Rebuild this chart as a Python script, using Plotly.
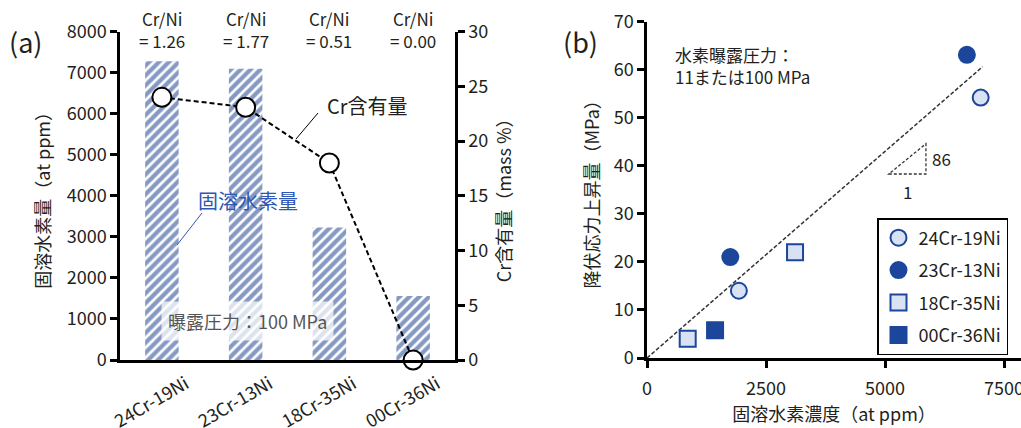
import plotly.graph_objects as go

# ---------------- data ----------------
alloys = ["24Cr-19Ni", "23Cr-13Ni", "18Cr-35Ni", "00Cr-36Ni"]
h_content = [7280, 7100, 3230, 1560]          # at ppm (100 MPa)
cr_content = [24.0, 23.1, 18.0, 0.0]          # mass %
cr_ni_ratio = ["1.26", "1.77", "0.51", "0.00"]

b_x = {"24Cr-19Ni": [1930, 7010], "23Cr-13Ni": [1750, 6720],
       "18Cr-35Ni": [855, 3110], "00Cr-36Ni": [1430]}
b_y = {"24Cr-19Ni": [14, 54.2], "23Cr-13Ni": [21, 63.1],
       "18Cr-35Ni": [4, 22], "00Cr-36Ni": [5.8]}
fit_slope = 86 / 10000          # MPa per at ppm (86 MPa / at%)
fit_x = [0, 7050]
tri_x = [5080, 5860]
tri_y = [38.3, 44.6]

left_y_ticks = [0, 1000, 2000, 3000, 4000, 5000, 6000, 7000, 8000]
right_y_ticks = [0, 5, 10, 15, 20, 25, 30]
b_x_ticks = [0, 2500, 5000, 7500]
b_y_ticks = [0, 10, 20, 30, 40, 50, 60, 70]

# ---------------- styles ----------------
FONT = "Noto Sans CJK JP, Noto Sans, sans-serif"
DARK = "#1b469b"
LIGHT = "#d9e2f3"
TXT = "#231f20"
W, H = 1021, 428
TF = 18


def px(x):
    return x / W


def py(y):
    return (H - y) / H


fig = go.Figure()

# (a) bars
fig.add_trace(go.Bar(
    x=alloys, y=h_content, width=0.4, xaxis="x", yaxis="y",
    marker=dict(color="white", line=dict(width=0),
                pattern=dict(shape="/", fgcolor="#0c3488", bgcolor="white",
                             size=7, solidity=0.62)),
    showlegend=False))
# (a) Cr content line
fig.add_trace(go.Scatter(
    x=alloys, y=cr_content, xaxis="x", yaxis="y2", mode="lines+markers",
    line=dict(color="black", width=2, dash="5px,3px"),
    marker=dict(size=19, color="white", line=dict(color="black", width=2)),
    showlegend=False, cliponaxis=False))

# (b) fit line
fig.add_trace(go.Scatter(
    x=fit_x, y=[fit_slope * v for v in fit_x], xaxis="x3", yaxis="y3",
    mode="lines", line=dict(color="#333", width=1.5, dash="4px,2px"),
    showlegend=False, hoverinfo="skip"))

styles = {
    "24Cr-19Ni": dict(symbol="circle", color=LIGHT, line=dict(color=DARK, width=2)),
    "23Cr-13Ni": dict(symbol="circle", color=DARK, line=dict(color=DARK, width=2)),
    "18Cr-35Ni": dict(symbol="square", color=LIGHT, line=dict(color=DARK, width=2)),
    "00Cr-36Ni": dict(symbol="square", color=DARK, line=dict(color=DARK, width=2)),
}
for name in alloys:
    fig.add_trace(go.Scatter(
        x=b_x[name], y=b_y[name], xaxis="x3", yaxis="y3", mode="markers",
        name=name, legendgroup=name,
        marker=dict(size=16, **styles[name]), cliponaxis=False))

axis_common = dict(showline=True, linecolor="black", linewidth=2.5,
                   ticks="outside", ticklen=7, tickwidth=2.5, tickcolor="black",
                   showgrid=False, zeroline=False, automargin=False,
                   ticklabeloverflow="allow",
                   tickfont=dict(family=FONT, size=TF, color=TXT))

fig.update_layout(
    width=W, height=H, margin=dict(l=0, r=0, t=0, b=0, autoexpand=False),
    plot_bgcolor="white", paper_bgcolor="white",
    font=dict(family=FONT, color=TXT),
    bargap=0.6,
    xaxis=dict(domain=[px(120), px(455)], anchor="y", range=[-0.5, 3.5],
               showline=True, linecolor="black", linewidth=2.5, ticks="",
               showgrid=False, tickangle=-30, ticklabelshift=24,
               ticklabelstandoff=4, automargin=False,
               ticklabeloverflow="allow",
               tickfont=dict(family=FONT, size=TF, color=TXT)),
    yaxis=dict(domain=[py(360), py(31.7)], anchor="x", range=[0, 8000],
               tickvals=left_y_ticks,
               title=dict(text="固溶水素量（at ppm）", standoff=12,
                          font=dict(family=FONT, size=18, color=TXT)),
               **axis_common),
    yaxis2=dict(overlaying="y", side="right", anchor="x", range=[0, 30],
                tickvals=right_y_ticks,
                title=dict(text="Cr含有量（mass %）", standoff=12,
                           font=dict(family=FONT, size=18, color=TXT)),
                **axis_common),
    xaxis3=dict(domain=[px(647), 1.0], anchor="y3", range=[0, 7857],
                tickvals=b_x_ticks, ticklabelstandoff=6,
                title=dict(text="固溶水素濃度（at ppm）", standoff=5,
                           font=dict(family=FONT, size=18, color=TXT)),
                **axis_common),
    yaxis3=dict(domain=[py(358), py(21.7)], anchor="x3", range=[0, 70],
                tickvals=b_y_ticks,
                title=dict(text="降伏応力上昇量（MPa）", standoff=10,
                           font=dict(family=FONT, size=18, color=TXT)),
                **axis_common),
    legend=dict(x=px(877), y=py(218), xanchor="left", yanchor="top",
                bordercolor="black", borderwidth=1.5, bgcolor="white",
                font=dict(family=FONT, size=18, color=TXT),
                tracegroupgap=6, itemwidth=30),
)


def note(x, y, text, size, color=TXT, **kw):
    d = dict(x=px(x), y=py(y), xref="paper", yref="paper", text=text,
             showarrow=False, xanchor="center", yanchor="middle",
             font=dict(family=FONT, size=size, color=color))
    d.update(kw)
    return d


ann = []
# Cr/Ni labels
for a, r in zip(alloys, cr_ni_ratio):
    ann.append(dict(x=a, xref="x", y=py(30), yref="paper", yanchor="middle",
                    xanchor="center",
                    text=f"Cr/Ni<br>= {r}", showarrow=False, align="center",
                    font=dict(family=FONT, size=17, color=TXT)))
ann += [
    note(25, 42, "(a)", 27),
    note(580, 42, "(b)", 27),
    note(367, 106, "Cr含有量", 20),
    note(248, 200, "固溶水素量", 20, color="#2f57b3"),
    note(247, 321, "曝露圧力：100 MPa", 18, color="#555",
         bgcolor="rgba(255,255,255,0.72)", borderpad=6),
    note(673, 66, "水素曝露圧力：<br>11または100 MPa", 17, xanchor="left",
         align="left"),
    dict(x=tri_x[1], y=(tri_y[0] + tri_y[1]) / 2, xref="x3", yref="y3",
         xanchor="left", yanchor="middle", xshift=4, text="86",
         showarrow=False, font=dict(family=FONT, size=17, color=TXT)),
    dict(x=(tri_x[0] + tri_x[1]) / 2, y=tri_y[0], xref="x3", yref="y3",
         xanchor="center", yanchor="top", yshift=-3, text="1",
         showarrow=False, font=dict(family=FONT, size=17, color=TXT)),
]
fig.update_layout(annotations=ann)

shapes = [
    # leader lines
    dict(type="line", xref="paper", yref="paper", x0=px(296), y0=py(139),
         x1=px(318), y1=py(113), line=dict(color="black", width=1)),
    dict(type="line", xref="paper", yref="paper", x0=px(202), y0=py(213),
         x1=px(177), y1=py(245), line=dict(color="#2f57b3", width=1)),
    # slope triangle
    dict(type="path", xref="x3", yref="y3",
         path=f"M {tri_x[0]} {tri_y[0]} L {tri_x[1]} {tri_y[0]} L {tri_x[1]} {tri_y[1]} Z",
         line=dict(color="#333", width=1.3, dash="3px,2px")),
]
fig.update_layout(shapes=shapes)

fig.write_html("out.html")
